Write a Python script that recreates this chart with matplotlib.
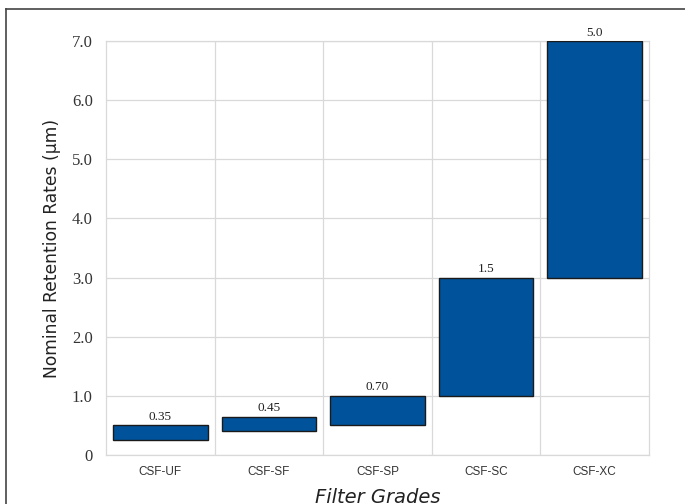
import matplotlib
matplotlib.use('Agg')
import matplotlib.pyplot as plt
from matplotlib.lines import Line2D

# Filter grades and their retention ranges (um)
grades = ['CSF-UF', 'CSF-SF', 'CSF-SP', 'CSF-SC', 'CSF-XC']
low = [0.25, 0.4, 0.5, 1.0, 3.0]
high = [0.5, 0.65, 1.0, 3.0, 7.0]
nominal = ['0.35', '0.45', '0.70', '1.5', '5.0']
yticks = [0, 1, 2, 3, 4, 5, 6, 7]
ylabels = ['0', '1.0', '2.0', '3.0', '4.0', '5.0', '6.0', '7.0']

fig = plt.figure(figsize=(6.85, 5.04), dpi=100)
ax = fig.add_axes([106/685, 1 - 455/504, (649 - 106)/685, (455 - 41)/504])

x = list(range(len(grades)))
heights = [h - l for l, h in zip(low, high)]
ax.bar(x, heights, bottom=low, width=0.87, color='#00529b',
       edgecolor='#1a1a1a', linewidth=1.0, zorder=3)

for xi, h, t in zip(x, high, nominal):
    ax.text(xi, h + 0.04, t, ha='center', va='bottom', fontsize=9.5,
            family='Liberation Serif', color='#222222')

ax.set_xlim(-0.5, 4.5)
ax.set_ylim(0, 7)
ax.set_yticks(yticks)
ax.set_yticklabels(ylabels, family='Liberation Serif', fontsize=12, color='#333333')
ax.set_xticks(x)
ax.set_xticklabels(grades, family='Liberation Sans', fontsize=8.5, color='#333333')
ax.set_xticks([0.5, 1.5, 2.5, 3.5], minor=True)
ax.tick_params(axis='both', which='both', length=0)
ax.tick_params(axis='y', pad=9.5)
ax.tick_params(axis='x', pad=8)

ax.grid(axis='y', color='#d9d9d9', linewidth=0.9, zorder=0)
ax.grid(axis='x', which='minor', color='#d9d9d9', linewidth=0.9, zorder=0)
for s in ax.spines.values():
    s.set_color('#d9d9d9')
    s.set_linewidth(0.9)

ax.set_ylabel('Nominal Retention Rates (µm)', fontsize=12.3, family='DejaVu Sans',
              color='#222222', labelpad=8)
ax.set_xlabel('Filter Grades', fontsize=14, style='italic', family='DejaVu Sans',
              color='#222222', labelpad=7)

# figure border (top and left visible)
fig.add_artist(Line2D([6/685, 6/685], [0, 1 - 9/504], transform=fig.transFigure,
                      color='#444444', linewidth=1.2))
fig.add_artist(Line2D([6/685, 1], [1 - 9/504, 1 - 9/504], transform=fig.transFigure,
                      color='#444444', linewidth=1.2))

fig.savefig('out.png', dpi=100)
